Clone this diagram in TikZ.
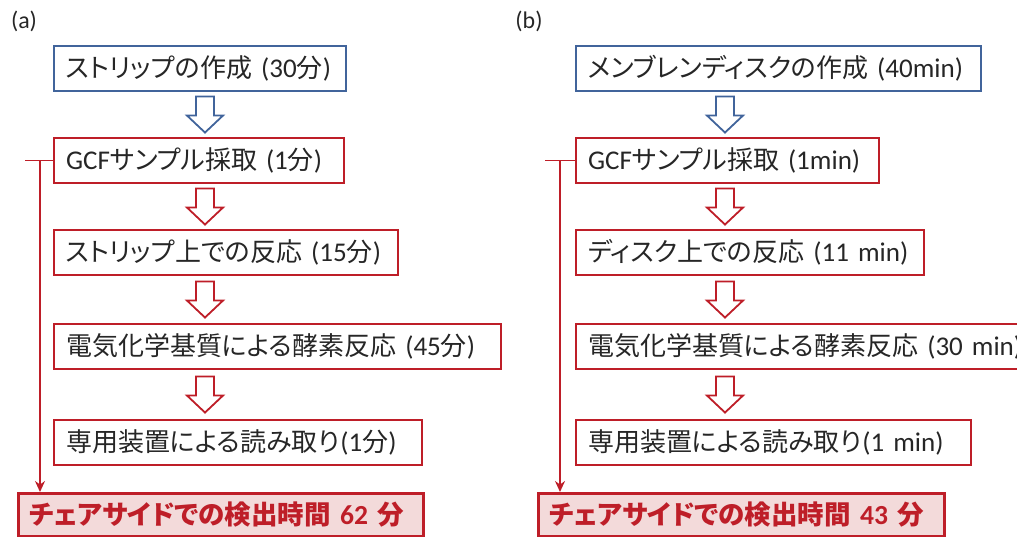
\documentclass[tikz,border=0pt]{standalone}
\usepackage{fontspec}
\setmainfont{Carlito}[Scale=1.04]
\newfontfamily\jpfont[RawFeature=+palt]{Noto Sans CJK JP}
\newcommand\J[1]{{\jpfont #1}}
\usetikzlibrary{arrows.meta,calc}
\definecolor{boxred}{RGB}{190,30,40}
\definecolor{boxblue}{RGB}{65,100,155}
\definecolor{finalfill}{RGB}{243,218,218}
\tikzset{
  basebox/.style={anchor=north west, inner xsep=12pt, inner ysep=0pt,
    minimum height=45pt, align=left, text=black!85,
    font=\fontsize{26}{28}\selectfont},
  bluebox/.style={basebox, draw=boxblue, line width=2.1pt},
  redbox/.style={basebox, draw=boxred, line width=2.1pt},
  finalbox/.style={basebox, inner xsep=11pt, minimum height=43pt, draw=boxred, line width=3pt,
    fill=finalfill, text=boxred, font=\fontsize{26.5}{28}\selectfont\bfseries},
  sideline/.style={draw=boxred, line width=1.8pt},
  panellabel/.style={anchor=center, font=\fontsize{23}{25}\selectfont, text=black!85},
  harrow/.pic={\path[draw, line width=1.8pt, fill=white]
     (-9,-18) -- (-9,1) -- (-18,1) -- (0,18) -- (18,1) -- (9,1) -- (9,-18) -- cycle;}
}
\begin{document}
\begin{tikzpicture}[x=1pt,y=-1pt]
\useasboundingbox (0,0) rectangle (1017,537);
\clip (0,0) rectangle (1017,537);
% ---------- panel (a)
\node[panellabel] (la) at (24,21) {(a)};
\node[bluebox, text width=268pt] (a1) at (53,45) {\mbox{\J{ストリップの作成} (30\J{分})}};
\node[redbox, text width=266pt] (a2) at (53,137) {\mbox{GCF\J{サンプル採取} (1\J{分})}};
\node[redbox, text width=320pt] (a3) at (53,229) {\mbox{\J{ストリップ上での反応} (15\J{分})}};
\node[redbox, text width=423pt] (a4) at (53,323) {\mbox{\J{電気化学基質による酵素反応} (45\J{分})}};
\node[redbox, text width=344pt] (a5) at (53,419) {\mbox{\J{専用装置による読み取り}\kern1pt(1\J{分})}};
\node[finalbox, text width=383pt] (af) at (17,492) {\mbox{\J{チェアサイドでの検出時間} 62 \J{分}}};
\pic[color=boxblue] at ($(a1.south west)!0.5!(a2.north west)+(152,0)$) {harrow};
\pic[color=boxred] at ($(a2.south west)!0.5!(a3.north west)+(152,0)$) {harrow};
\pic[color=boxred] at ($(a3.south west)!0.5!(a4.north west)+(152,0)$) {harrow};
\pic[color=boxred] at ($(a4.south west)!0.5!(a5.north west)+(152,0)$) {harrow};
\draw[sideline] (a2.west) -- ++(-28,0) coordinate (ta);
\coordinate (va) at ($(a2.west)+(-13,0)$);
\draw[sideline, -{Stealth[length=11pt,width=10pt]}] (va) -- (va |- af.north);
% ---------- panel (b)
\node[panellabel] (lb) at (529,21) {(b)};
\node[bluebox, text width=381pt] (b1) at (575,45) {\mbox{\J{メンブレンディスクの作成} (40min)}};
\node[redbox, text width=279pt] (b2) at (575,137) {\mbox{GCF\J{サンプル採取} (1min)}};
\node[redbox, text width=324pt] (b3) at (575,229) {\mbox{\J{ディスク上での反応} (11 min)}};
\node[redbox, text width=500pt] (b4) at (575,323) {\mbox{\J{電気化学基質による酵素反応} (30 min)}};
\node[redbox, text width=371pt] (b5) at (575,419) {\mbox{\J{専用装置による読み取り}\kern1pt(1 min)}};
\node[finalbox, text width=384pt] (bf) at (537,492) {\mbox{\J{チェアサイドでの検出時間} 43 \J{分}}};
\pic[color=boxblue] at ($(b1.south west)!0.5!(b2.north west)+(150,0)$) {harrow};
\pic[color=boxred] at ($(b2.south west)!0.5!(b3.north west)+(150,0)$) {harrow};
\pic[color=boxred] at ($(b3.south west)!0.5!(b4.north west)+(150,0)$) {harrow};
\pic[color=boxred] at ($(b4.south west)!0.5!(b5.north west)+(150,0)$) {harrow};
\draw[sideline] (b2.west) -- ++(-30,0) coordinate (tb);
\coordinate (vb) at ($(b2.west)+(-15,0)$);
\draw[sideline, -{Stealth[length=11pt,width=10pt]}] (vb) -- (vb |- bf.north);
\end{tikzpicture}
\end{document}
